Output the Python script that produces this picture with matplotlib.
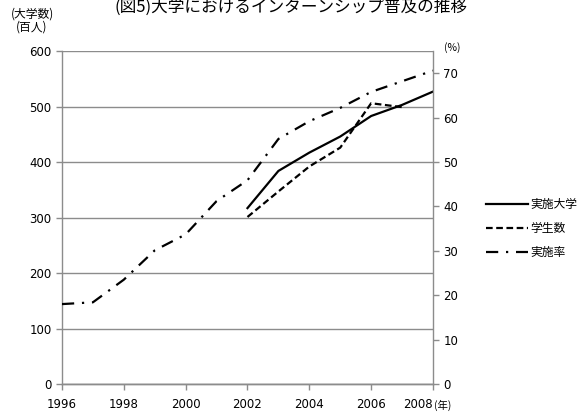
import matplotlib.pyplot as plt

plt.rcParams['font.family'] = ['DejaVu Sans', 'Noto Sans CJK JP']

# data
years_univ = [2002, 2003, 2004, 2005, 2006, 2007, 2008]
univ = [317, 384, 417, 446, 483, 503, 527]          # 実施大学 (left axis)

years_stud = [2002, 2003, 2004, 2005, 2006, 2007]
students = [301, 347, 392, 426, 506, 499]            # 学生数 (left axis)

years_rate = [1996, 1997, 1998, 1999, 2000, 2001, 2002, 2003, 2004, 2005, 2006, 2007, 2008]
rate = [18.0, 18.4, 23.5, 30.1, 33.7, 41.2, 45.9, 55.2, 59.2, 62.2, 65.8, 68.2, 70.6]  # 実施率 (%)

left_ticks = [0, 100, 200, 300, 400, 500, 600]
right_ticks = [0, 10, 20, 30, 40, 50, 60, 70]
x_ticks = [1996, 1998, 2000, 2002, 2004, 2006, 2008]

jp = ['Noto Sans CJK JP', 'DejaVu Sans']
grey = '#8c8c8c'

fig = plt.figure(figsize=(5.83, 4.12), dpi=100)
ax = fig.add_axes([0.1063, 0.068, 0.6364, 0.808])
ax2 = ax.twinx()

l1, = ax.plot(years_univ, univ, color='black', lw=1.6, label='実施大学')
l2, = ax.plot(years_stud, students, color='black', lw=1.6, linestyle=(0, (3, 1.6)), label='学生数')
l3, = ax2.plot(years_rate, rate, color='black', lw=1.6, linestyle=(0, (5.5, 3.5, 1, 3.5)), label='実施率')

ax.set_xlim(1996, 2008)
ax.set_ylim(0, 600)
ax2.set_ylim(0, 75)
ax.set_xticks(x_ticks)
ax.set_yticks(left_ticks)
ax2.set_yticks(right_ticks)

ax.grid(axis='y', color=grey, lw=1)
ax.set_axisbelow(True)
for a in (ax, ax2):
    a.spines['top'].set_visible(False)
    for s in ('left', 'right', 'bottom'):
        a.spines[s].set_color(grey)
        a.spines[s].set_linewidth(1)
    a.tick_params(colors=grey, labelcolor='black', labelsize=8.5, length=4, width=1)
ax.tick_params(axis='x', pad=6)
ax2.spines['left'].set_visible(False)
ax.spines['right'].set_visible(False)
ax.get_xticklabels()[-1].set_ha('right')

fig.text(0.5, 0.982, '(図5)大学におけるインターンシップ普及の推移', family=jp,
         fontsize=12, ha='center', va='center')
fig.text(0.055, 0.95, '(大学数)\n(百人)', family=jp, fontsize=8.5,
         ha='center', va='center', linespacing=1.05)
fig.text(0.775, 0.885, '(%)', family=jp, fontsize=7.5, ha='center', va='center')
fig.text(0.759, 0.017, '(年)', family=jp, fontsize=7.5, ha='center', va='center')

leg = fig.legend(handles=[l1, l2, l3], loc='center left', bbox_to_anchor=(0.815, 0.445),
                 frameon=False, handlelength=3.6, handletextpad=0.15, labelspacing=0.95,
                 prop={'family': jp, 'size': 8.5})

fig.savefig('out.png', dpi=100)
